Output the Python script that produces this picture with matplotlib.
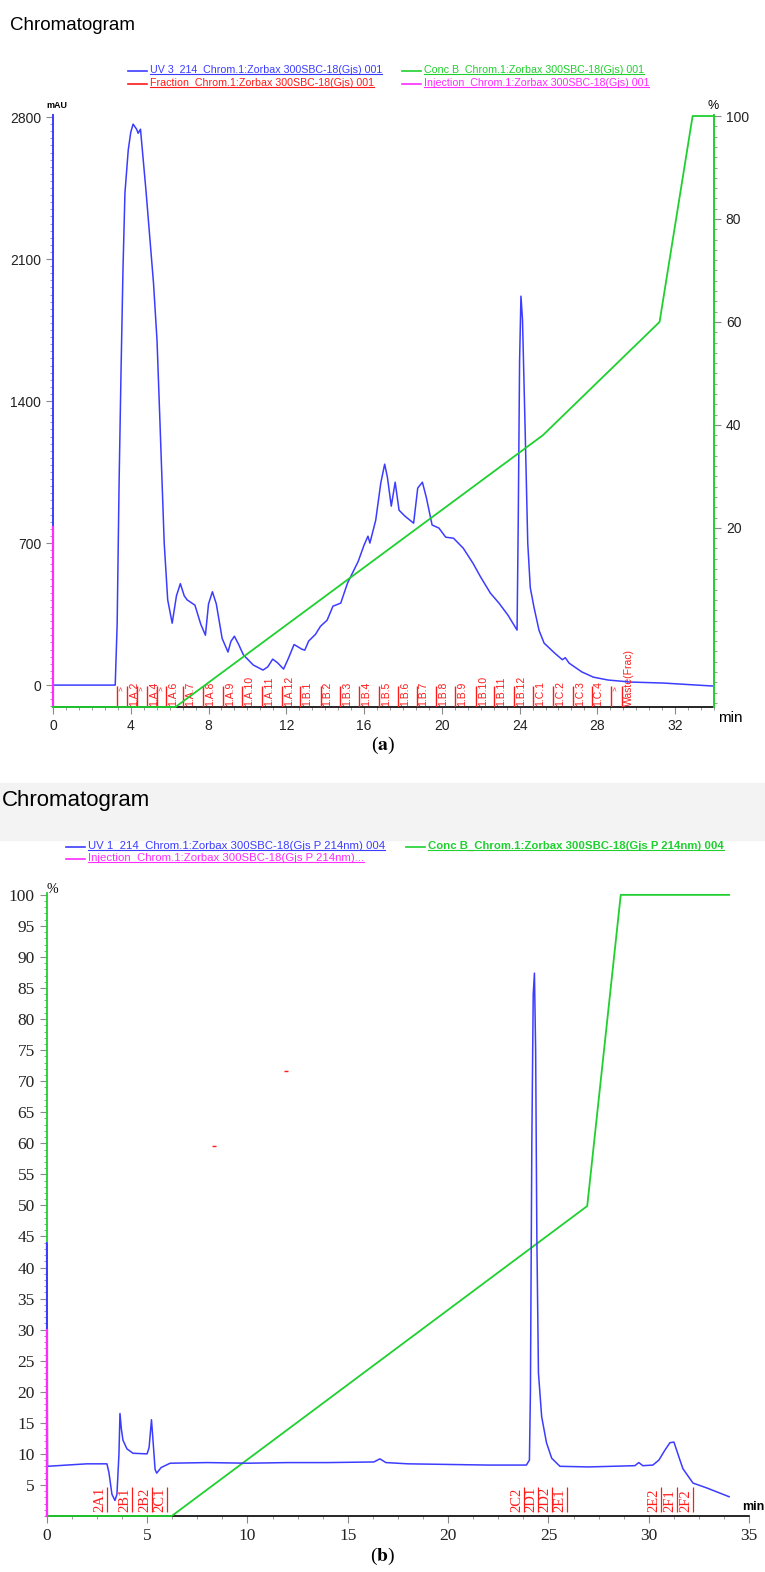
import numpy as np
import matplotlib.pyplot as plt
from matplotlib.lines import Line2D
from matplotlib.patches import Rectangle
from matplotlib.ticker import MultipleLocator

plt.rcParams['font.family'] = ['Liberation Sans', 'DejaVu Sans']
plt.rcParams['mathtext.fontset'] = 'stix'

# ---- panel (a): UV 3_214 trace (mAU) vs time (min)
uv_a_t = [0, 3.2, 3.3, 3.4, 3.5, 3.6, 3.7, 3.87, 4.0, 4.12, 4.3, 4.38, 4.5, 4.78, 5.17,
          5.35, 5.5, 5.72, 5.9, 6.13, 6.35, 6.55, 6.75, 6.9, 7.3, 7.6, 7.84, 8.0, 8.2,
          8.4, 8.7, 9.0, 9.15, 9.33, 9.55, 9.8, 10.3, 10.8, 11.05, 11.3, 11.55, 11.86,
          12.1, 12.4, 12.8, 12.95, 13.15, 13.5, 13.76, 14.1, 14.4, 14.8, 15.15, 15.7,
          16.0, 16.2, 16.3, 16.6, 16.86, 17.06, 17.2, 17.4, 17.6, 17.8, 18.1, 18.55,
          18.76, 19.0, 19.2, 19.5, 19.85, 20.2, 20.6, 21.1, 21.6, 22.0, 22.5, 22.94,
          23.4, 23.87, 23.93, 24.0, 24.07, 24.15, 24.3, 24.42, 24.55, 24.74, 25.0,
          25.26, 25.8, 26.2, 26.35, 26.55, 27.2, 27.8, 28.55, 29.7, 31.4, 34.0]
uv_a_mau = [0, 0, 300, 1000, 1550, 2050, 2425, 2637, 2725, 2765, 2740, 2720, 2740, 2440,
            1981, 1700, 1300, 700, 420, 305, 440, 500, 440, 420, 394, 300, 246, 400, 460,
            400, 230, 163, 215, 241, 200, 148, 99, 74, 90, 128, 110, 79, 130, 200, 177,
            172, 217, 250, 290, 320, 389, 404, 503, 610, 690, 734, 700, 813, 996, 1089,
            1025, 882, 1000, 862, 833, 798, 971, 1000, 926, 789, 774, 729, 724, 675, 601,
            532, 453, 404, 345, 271, 800, 1600, 1917, 1800, 1200, 700, 480, 384, 270,
            207, 158, 125, 135, 108, 65, 39, 25, 15, 10, -5]

# gradient (% B)
conc_a_t = [0, 6.3, 25.2, 31.2, 32.9, 34.0]
conc_a_pct = [-14.8, -14.8, 38, 60, 100, 100]

# injection mark
inj_a_t = [0, 0]
inj_a_mau = [-108, 780]

# fractions
frac_a_t = [3.28, 3.8, 4.31, 4.83, 5.35, 5.82, 6.7, 7.7, 8.75, 9.72, 10.76, 11.79,
            12.73, 13.76, 14.75, 15.73, 16.75, 17.75, 18.7, 19.7, 20.7, 21.75, 22.7,
            23.7, 24.7, 25.7, 26.75, 27.7, 28.7, 29.28]
frac_a_lbl = ['>', '1.A.2', '>', '1.A.4', '>', '1.A.6', '1.A.7', '1.A.8', '1.A.9',
              '1.A.10', '1.A.11', '1.A.12', '1.B.1', '1.B.2', '1.B.3', '1.B.4', '1.B.5',
              '1.B.6', '1.B.7', '1.B.8', '1.B.9', '1.B.10', '1.B.11', '1.B.12', '1.C.1',
              '1.C.2', '1.C.3', '1.C.4', '>', 'Waste(Frac)']

# ---- panel (b): UV 1_214 trace and gradient, both on the % axis
uv_b_t = [0, 0, 0.04, 1, 2, 3.0, 3.1, 3.25, 3.4, 3.5, 3.6, 3.65, 3.72, 3.8, 4.0, 4.3,
          5.0, 5.1, 5.22, 5.3, 5.4, 5.48, 5.7, 6.15, 8, 10, 12, 14, 16.3, 16.6, 16.9,
          18, 20, 22, 23.9, 24.05, 24.1, 24.17, 24.24, 24.3, 24.36, 24.42, 24.5, 24.66,
          24.9, 25.16, 25.57, 27, 29.3, 29.5, 29.7, 30.2, 30.5, 30.8, 31.05, 31.25,
          31.55, 31.7, 32.2, 32.9, 34.0]
uv_b_pct = [0, 44, 8.0, 8.2, 8.4, 8.4, 7, 3.5, 2.5, 3.5, 10, 16.5, 14, 12.2, 10.8, 10.1,
            10.0, 11, 15.5, 12, 7.5, 6.9, 7.8, 8.5, 8.6, 8.5, 8.6, 8.6, 8.7, 9.2, 8.6,
            8.4, 8.3, 8.2, 8.2, 9, 20, 60, 84, 87.4, 75, 45, 23, 16, 11.8, 9.3, 8.0,
            7.9, 8.1, 8.6, 8.1, 8.2, 9, 10.6, 11.8, 11.9, 9.0, 7.6, 5.3, 4.5, 3.1]

conc_b_t = [0, 6.23, 26.93, 28.6, 34.0]
conc_b_pct = [0, 0, 49.9, 100, 100]

inj_b_t = [0, 0]
inj_b_pct = [0, 30]

frac_b_t = [2.99, 4.27, 5.23, 5.98, 23.78, 24.49, 25.2, 25.94, 30.6, 31.39, 32.2]
frac_b_lbl = ['2A1', '2B1', '2B2', '2C1', '2C2', '2D1', '2D2', '2E1', '2E2', '2F1', '2F2']

stray_b_t = [8.35, 11.9]
stray_b_pct = [59.6, 71.7]

BLUE = '#3c3cff'
GREEN = '#1fd02f'
RED = '#ff1a1a'
PINK = '#ff2bff'
TICK = '#8a8a8a'

W, H = 765, 1572
fig = plt.figure(figsize=(W / 100, H / 100), dpi=100)


def fx(x):
    return x / W


def fy(y):
    return 1 - y / H


def legend_entry(x, y, text, color, size=7.7, weight='normal'):
    fig.add_artist(Line2D([fx(x - 22), fx(x - 3)], [fy(y + 1), fy(y + 1)],
                          transform=fig.transFigure, color=color, lw=1.2))
    return fig.text(fx(x), fy(y), text, color=color, fontsize=size, weight=weight,
                    va='center', ha='left')


# ---------------- panel (a) ----------------
fig.text(fx(10), fy(30), 'Chromatogram', fontsize=13.5, va='baseline')

legend_texts = [
    legend_entry(150, 70, 'UV 3_214_Chrom.1:Zorbax 300SBC-18(Gjs) 001', BLUE),
    legend_entry(424, 70, 'Conc B_Chrom.1:Zorbax 300SBC-18(Gjs) 001', GREEN),
    legend_entry(150, 83, 'Fraction_Chrom.1:Zorbax 300SBC-18(Gjs) 001', RED),
    legend_entry(424, 83, 'Injection_Chrom.1:Zorbax 300SBC-18(Gjs) 001', PINK),
]

ax1 = fig.add_axes([fx(53), fy(707), 661 / W, 592 / H])
ax1.plot(uv_a_t, uv_a_mau, color=BLUE, lw=1.1, zorder=3)
ax1.plot(inj_a_t, inj_a_mau, color=PINK, lw=1.6, zorder=5, clip_on=False)
ax1.vlines(frac_a_t, -108, -5, color=RED, lw=1.0, zorder=4)
for t, lbl in zip(frac_a_t, frac_a_lbl):
    if lbl == '>':
        ax1.annotate(lbl, xy=(t, -5), xytext=(1, 0), textcoords='offset points',
                     rotation=90, ha='left', va='top', fontsize=6, color=RED)
    else:
        ax1.annotate(lbl, xy=(t, -108), xytext=(1.5, 1), textcoords='offset points',
                     rotation=90, ha='left', va='bottom', fontsize=7.5, color=RED)
ax1.set_xlim(0, 34)
ax1.set_ylim(-108, 2810)
ax1.set_xticks(range(0, 33, 4))
ax1.xaxis.set_minor_locator(MultipleLocator(4 / 6))
ax1.set_yticks([0, 700, 1400, 2100, 2800])
ax1.yaxis.set_minor_locator(MultipleLocator(35))
for s in ['top', 'right']:
    ax1.spines[s].set_visible(False)
ax1.spines['left'].set_color(BLUE)
ax1.spines['left'].set_linewidth(1.4)
ax1.spines['bottom'].set_color('black')
ax1.spines['bottom'].set_linewidth(1.2)
ax1.tick_params(which='both', color=TICK, labelsize=10, labelcolor='#222222')
ax1.tick_params(which='major', length=5)
ax1.tick_params(which='minor', length=2.5)

ax2 = ax1.twinx()
ax2.plot(conc_a_t, conc_a_pct, color=GREEN, lw=1.3, zorder=3, clip_on=False)
ax2.set_ylim(-14.8, 100.2)
ax2.set_yticks([20, 40, 60, 80, 100])
ax2.yaxis.set_minor_locator(MultipleLocator(2))
for s in ['top', 'left', 'bottom']:
    ax2.spines[s].set_visible(False)
ax2.spines['right'].set_color(GREEN)
ax2.spines['right'].set_linewidth(1.4)
ax2.tick_params(which='both', color=TICK, labelsize=10, labelcolor='#222222')
ax2.tick_params(which='major', length=5)
ax2.tick_params(which='minor', length=2.5)

fig.text(fx(57), fy(106), 'mAU', fontsize=6.5, weight='bold', ha='center', va='center')
fig.text(fx(713), fy(106), '%', fontsize=9, ha='center', va='center')
fig.text(fx(730), fy(718), 'min', fontsize=11, ha='center', va='center')
fig.text(fx(383), fy(745), r'($\mathbf{a}$)', fontsize=14, family='Liberation Serif',
         ha='center', va='center')

# ---------------- panel (b) ----------------
fig.add_artist(Rectangle((0, fy(840)), 1, 57 / H, transform=fig.transFigure,
                         color='#f3f3f3', zorder=0))
fig.text(fx(2), fy(806), 'Chromatogram', fontsize=16, va='baseline')

legend_texts += [
    legend_entry(88, 846, 'UV 1_214_Chrom.1:Zorbax 300SBC-18(Gjs P 214nm) 004', BLUE,
                 size=8.2),
    legend_entry(428, 846, 'Conc B_Chrom.1:Zorbax 300SBC-18(Gjs P 214nm) 004', GREEN,
                 size=8.2, weight='bold'),
    legend_entry(88, 858, 'Injection_Chrom.1:Zorbax 300SBC-18(Gjs P 214nm)...', PINK,
                 size=8.2),
]

axb = fig.add_axes([fx(46.7), fy(1516), 702.5 / W, 623 / H])
axb.plot(conc_b_t, conc_b_pct, color=GREEN, lw=1.3, zorder=3, clip_on=False)
axb.plot(uv_b_t, uv_b_pct, color=BLUE, lw=1.1, zorder=4, clip_on=False)
axb.plot(inj_b_t, inj_b_pct, color=PINK, lw=1.6, zorder=5, clip_on=False)
axb.plot(stray_b_t, stray_b_pct, ls='none', marker='_', ms=3, color=RED)
axb.vlines(frac_b_t, 0.6, 4.7, color=RED, lw=0.9, zorder=4)
for t, lbl in zip(frac_b_t, frac_b_lbl):
    axb.annotate(lbl, xy=(t, 0.6), xytext=(-0.5, 0), textcoords='offset points',
                 rotation=90, ha='right', va='bottom', fontsize=10.5, color=RED,
                 family='Liberation Serif')
axb.set_xlim(0, 35)
axb.set_ylim(0, 100.3)
axb.set_xticks(range(0, 36, 5))
axb.xaxis.set_minor_locator(MultipleLocator(1.25))
axb.set_yticks(range(5, 101, 5))
axb.yaxis.set_minor_locator(MultipleLocator(1))
for s in ['top', 'right']:
    axb.spines[s].set_visible(False)
axb.spines['left'].set_color(GREEN)
axb.spines['left'].set_linewidth(1.3)
axb.spines['bottom'].set_color('black')
axb.spines['bottom'].set_linewidth(1.2)
axb.tick_params(which='both', color=TICK, labelsize=12.5, labelcolor='#222222')
axb.tick_params(which='major', length=5)
axb.tick_params(which='minor', length=2.5)
for lab in axb.get_xticklabels() + axb.get_yticklabels():
    lab.set_family('Liberation Serif')

fig.text(fx(52), fy(889), '%', fontsize=10, family='Liberation Serif',
         ha='center', va='center')
fig.text(fx(764), fy(1507), 'min', fontsize=9, weight='bold', ha='right', va='center')
fig.text(fx(383), fy(1556), r'($\mathbf{b}$)', fontsize=14, family='Liberation Serif',
         ha='center', va='center')

# underline the legend entries like the instrument software does
fig.canvas.draw()
for t in legend_texts:
    bb = t.get_window_extent()
    fig.add_artist(Line2D([bb.x0 / W, bb.x1 / W], [(bb.y0 + 1) / H] * 2,
                          transform=fig.transFigure, color=t.get_color(), lw=0.8))

fig.savefig('out.png', dpi=100)
